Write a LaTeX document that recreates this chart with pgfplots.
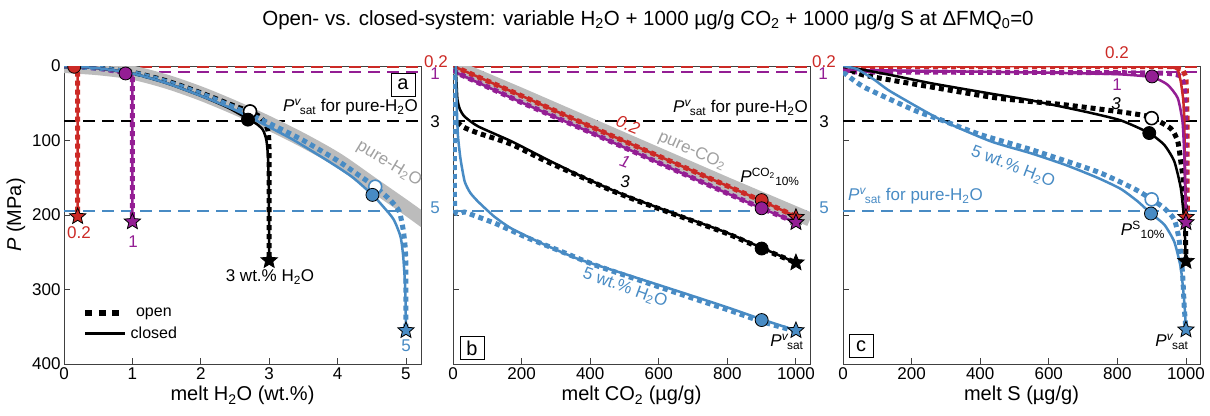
\documentclass[border=0pt]{standalone}
\usepackage{fontspec}
\setmainfont{Liberation Sans}
\usepackage{pgfplots}
\pgfplotsset{compat=1.18}

\definecolor{cred}{RGB}{204,42,38}
\definecolor{cpur}{RGB}{148,30,148}
\definecolor{cblu}{RGB}{72,139,196}
\definecolor{cgray}{RGB}{188,188,188}

\pgfdeclareplotmark{fstar}{%
 \pgfpathmoveto{\pgfpointpolar{90}{\pgfplotmarksize}}%
 \pgfpathlineto{\pgfpointpolar{126}{0.45\pgfplotmarksize}}%
 \pgfpathlineto{\pgfpointpolar{162}{\pgfplotmarksize}}%
 \pgfpathlineto{\pgfpointpolar{198}{0.45\pgfplotmarksize}}%
 \pgfpathlineto{\pgfpointpolar{234}{\pgfplotmarksize}}%
 \pgfpathlineto{\pgfpointpolar{270}{0.45\pgfplotmarksize}}%
 \pgfpathlineto{\pgfpointpolar{306}{\pgfplotmarksize}}%
 \pgfpathlineto{\pgfpointpolar{342}{0.45\pgfplotmarksize}}%
 \pgfpathlineto{\pgfpointpolar{18}{\pgfplotmarksize}}%
 \pgfpathlineto{\pgfpointpolar{54}{0.45\pgfplotmarksize}}%
 \pgfpathclose
 \pgfusepathqfillstroke
}

\newcommand{\Pv}{\textit{P}\textsuperscript{\textit{v}}\kern-0.1em\textsubscript{sat}}

\pgfplotsset{
  panel/.style={
    scale only axis, width=357pt, height=298pt,
    y dir=reverse, ymin=0, ymax=400,
    ytick={0,100,200,300,400},
    tick pos=left, tick align=inside,
    major tick length=6pt,
    axis line style={black!75, line width=0.9pt},
    every tick/.style={black!75, line width=0.9pt},
    tick label style={font=\fontsize{17}{20}\selectfont},
    label style={font=\fontsize{20}{24}\selectfont},
    /pgf/number format/assume math mode=true,
    /pgf/number format/1000 sep={},
    clip marker paths=true,
  },
  openl/.style={line width=5pt, dash pattern=on 5pt off 4pt},
  closedl/.style={line width=2.5pt},
  hd/.style={line width=2pt, dash pattern=on 12pt off 7pt},
  band/.style={color=cgray, line width=14pt},
  fstarm/.style={only marks, mark=fstar, mark size=8.5pt, mark options={draw=black, line width=0.8pt, fill=#1}},
  fcirc/.style={only marks, mark=*, mark size=6.5pt, mark options={draw=black, line width=0.8pt, fill=#1}},
  ocirc/.style={only marks, mark=*, mark size=6.5pt, mark options={draw=#1, line width=1.6pt, fill=white}},
}

\begin{document}
\begin{tikzpicture}
\useasboundingbox (0pt,0pt) rectangle (1210pt,415pt);

% ---------------- panel a ----------------
\begin{axis}[panel, at={(64pt,51pt)}, anchor=south west,
  xmin=0, xmax=5.22, xtick={0,1,2,3,4,5},
  xlabel={melt H\textsubscript{2}O (wt.\%)},
  ylabel={\textit{P} (MPa)},
  legend style={draw=none, fill=none, at={(axis cs:0.22,319)}, anchor=north west,
    font=\fontsize{16}{19}\selectfont, row sep=5pt},
  legend image code/.code={\draw[#1] (0pt,0pt) -- (40pt,0pt);},
]
\addlegendimage{black, line width=6.5pt, dash pattern=on 7pt off 6.5pt}
\addlegendentry{open}
\addlegendimage{black, line width=3pt}
\addlegendentry{closed}

\addplot[cred, hd] coordinates {(0,1) (5.22,1)};
\addplot[cpur, hd] coordinates {(0,8.5) (5.22,8.5)};
\addplot[black, hd] coordinates {(0,74) (5.22,74)};
\addplot[cblu, hd] coordinates {(0,194) (5.22,194)};

\addplot[band, smooth] coordinates {(0,0) (0.5,3) (1,9) (1.5,21) (2,37) (2.5,56) (3,77) (3.5,100) (4,126) (4.5,158) (5,190) (5.3,210)};

% open
\addplot[cred, openl] coordinates {(0,0) (0.1,1) (0.2,2) (0.2,202)};
\addplot[cpur, openl] coordinates {(0,0) (0.5,3) (0.9,9) (1,11) (1,209)};
\addplot[black, openl, smooth, tension=0.4] coordinates {(0,0) (0.5,2.5) (1,8.5) (1.5,20) (2,36) (2.5,54) (2.72,61) (2.86,68) (2.95,78) (2.99,92) (3,130) (3,261)};
\addplot[cblu, openl, smooth, tension=0.4] coordinates {(0,0) (0.5,3) (1,9) (1.5,21) (2,37) (2.5,56) (3,77) (3.5,100) (4,127) (4.3,146) (4.55,162) (4.77,180) (4.9,195) (4.96,220) (4.99,245) (5,275) (5,355)};
% closed
\addplot[cred, closedl] coordinates {(0,0) (0.1,1) (0.2,2) (0.2,202)};
\addplot[cpur, closedl] coordinates {(0,0) (0.5,3) (0.9,9) (1,11) (1,209)};
\addplot[black, closedl, smooth, tension=0.4] coordinates {(0,0) (0.5,3) (1,10) (1.5,23) (2,40) (2.4,56) (2.69,71) (2.82,78) (2.91,86) (2.96,100) (2.985,125) (2.995,170) (3,261)};
\addplot[cblu, closedl, smooth, tension=0.4] coordinates {(0,0) (0.5,3) (1,10) (1.5,23) (2,40) (2.5,59) (3,82) (3.35,99) (3.8,124) (4.2,148) (4.51,173) (4.67,189) (4.82,206) (4.92,229) (4.96,256) (4.99,300) (5,355)};

\addplot[fcirc=cred] coordinates {(0.15,1)};
\addplot[fcirc=cpur] coordinates {(0.9,10)};
\addplot[ocirc=black] coordinates {(2.72,61)};
\addplot[fcirc=black] coordinates {(2.69,72)};
\addplot[ocirc=cblu] coordinates {(4.55,162)};
\addplot[fcirc=cblu] coordinates {(4.51,173)};
\addplot[fstarm=cred] coordinates {(0.2,202)};
\addplot[fstarm=cpur] coordinates {(1,209)};
\addplot[fstarm=black] coordinates {(3,261)};
\addplot[fstarm=cblu] coordinates {(5,355)};
\end{axis}

% ---------------- panel b ----------------
\begin{axis}[panel, at={(453pt,51pt)}, anchor=south west,
  xmin=0, xmax=1041, xtick={0,200,400,600,800,1000}, yticklabels={},
  xlabel={melt CO\textsubscript{2} (µg/g)},
]
\addplot[cred, hd] coordinates {(0,1) (1041,1)};
\addplot[cpur, hd] coordinates {(0,8.5) (1041,8.5)};
\addplot[black, hd] coordinates {(0,74) (1041,74)};
\addplot[cblu, hd] coordinates {(0,194) (1041,194)};

\addplot[band] coordinates {(0,0) (200,39) (400,79) (600,119) (800,159) (1041,206)};

\addplot[cred, openl] coordinates {(0,0) (10,2) (200,40) (400,81) (600,121) (800,161) (900,181) (1000,202)};
\addplot[cpur, openl] coordinates {(0,5) (15,10) (200,49) (400,89) (600,130) (800,171) (900,191) (1000,210)};
\addplot[black, openl, smooth, tension=0.4] coordinates {(12,75) (30,82) (73,90) (170,105) (268,127) (365,147) (462,167) (550,183) (681,205) (800,225) (900,245) (1000,264)};
\addplot[cblu, openl, smooth, tension=0.3] coordinates {(5,0) (5,190) (34,196) (122,211) (219,231) (316,249) (413,267) (540,287) (681,309) (800,327) (900,343) (1000,356)};

\addplot[cred, closedl] coordinates {(0,0) (10,2) (200,40) (400,81) (600,121) (800,161) (900,181) (1000,202)};
\addplot[cpur, closedl] coordinates {(0,5) (15,10) (200,49) (400,89) (600,130) (800,171) (900,191) (1000,210)};
\addplot[black, closedl, smooth, tension=0.35] coordinates {(8,0) (10,20) (13,45) (20,58) (34,68) (73,81) (170,101) (268,124) (365,146) (462,166) (550,182) (681,204) (800,224) (900,244) (1000,264)};
\addplot[cblu, closedl, smooth, tension=0.35] coordinates {(8,0) (10,40) (13,80) (15,97) (22,125) (34,155) (50,170) (73,182) (120,202) (170,218) (268,240) (365,259) (486,277) (540,285) (681,306) (800,324) (900,340) (1000,355)};

\addplot[fcirc=cred] coordinates {(900,180)};
\addplot[fcirc=cpur] coordinates {(900,191)};
\addplot[fcirc=black] coordinates {(900,245)};
\addplot[fcirc=cblu] coordinates {(900,341)};
\addplot[fstarm=cred] coordinates {(1000,203)};
\addplot[fstarm=cpur] coordinates {(1000,210)};
\addplot[fstarm=black] coordinates {(1000,264)};
\addplot[fstarm=cblu] coordinates {(1000,355)};
\end{axis}

% ---------------- panel c ----------------
\begin{axis}[panel, at={(843pt,51pt)}, anchor=south west,
  xmin=0, xmax=1041, xtick={0,200,400,600,800,1000}, yticklabels={},
  xlabel={melt S (µg/g)},
]
\addplot[cred, hd] coordinates {(0,1) (1041,1)};
\addplot[cpur, hd] coordinates {(0,8.5) (1041,8.5)};
\addplot[black, hd] coordinates {(0,74) (1041,74)};
\addplot[cblu, hd] coordinates {(0,194) (1041,194)};

\addplot[cred, openl] coordinates {(0,1) (960,1) (990,4) (1000,15) (1003,60) (1004,203)};
\addplot[cpur, openl, smooth, tension=0.3] coordinates {(0,8) (800,9) (950,10) (985,14) (995,30) (999,80) (1000,210)};
\addplot[black, openl, smooth, tension=0.35] coordinates {(0,0) (59,12) (255,28) (450,43) (645,52) (800,61) (893,68) (956,84) (976,101) (985,128) (995,164) (998,200) (1000,262)};
\addplot[cblu, openl, smooth, tension=0.35] coordinates {(0,8) (60,28) (206,59) (284,72) (400,92) (547,112) (742,142) (850,165) (900,179) (937,191) (966,206) (980,233) (990,278) (995,323) (1000,354)};

\addplot[cred, closedl, smooth, tension=0.3] coordinates {(0,0) (900,0.5) (960,2) (976,5) (985,21) (992,45) (995,70) (997,130) (1000,203)};
\addplot[cpur, closedl, smooth, tension=0.35] coordinates {(0,5) (300,7) (600,9) (800,11) (901,15) (946,25) (976,43) (990,75) (995,119) (998,170) (1000,210)};
\addplot[black, closedl, smooth, tension=0.35] coordinates {(0,0) (138,12) (255,23) (430,37) (547,46) (713,62) (810,73) (893,90) (937,106) (966,128) (985,164) (995,209) (1000,262)};
\addplot[cblu, closedl, smooth, tension=0.35] coordinates {(0,0) (40,4) (90,18) (138,34) (284,72) (430,101) (547,117) (650,133) (742,150) (810,165) (860,182) (898,198) (937,213) (966,236) (985,271) (995,316) (1000,354)};

\addplot[fcirc=cred] coordinates {(900,-2)};
\addplot[fcirc=cpur] coordinates {(901,14)};
\addplot[ocirc=black] coordinates {(900,70)};
\addplot[fcirc=black] coordinates {(893,90)};
\addplot[ocirc=cblu] coordinates {(900,179)};
\addplot[fcirc=cblu] coordinates {(898,198)};
\addplot[fstarm=cred] coordinates {(1000,203)};
\addplot[fstarm=cpur] coordinates {(1000,210)};
\addplot[fstarm=black] coordinates {(1000,262)};
\addplot[fstarm=cblu] coordinates {(1000,354)};
\end{axis}

% ---------------- texts ----------------
\node[font=\fontsize{20.5}{24}\selectfont] at (648pt,395pt)
  {Open- vs. closed-system: variable H\textsubscript{2}O + 1000 µg/g CO\textsubscript{2} + 1000 µg/g S at ΔFMQ\textsubscript{0}=0};

\begin{scope}[every node/.style={font=\fontsize{17}{20}\selectfont, inner sep=0pt}]
% panel a
\node[anchor=east] at (418pt,308pt) {\Pv{} for pure-H\textsubscript{2}O};
\node[cgray!85!black, rotate=-31] at (389pt,251pt) {pure-H\textsubscript{2}O};
\node at (270pt,138pt) {3 wt.\% H\textsubscript{2}O};
\node[cred] at (79pt,182pt) {0.2};
\node[cpur] at (133pt,173pt) {1};
\node[cblu] at (406pt,69pt) {5};
\node[cred] at (436pt,353pt) {0.2};
\node[cpur] at (435pt,341.5pt) {1};
\node at (435pt,293pt) {3};
\node[cblu] at (435pt,207pt) {5};
\node[draw=black, line width=0.9pt, minimum width=24pt, minimum height=23pt, font=\fontsize{20}{22}\selectfont] at (403pt,330.5pt) {a};
% panel b
\node[anchor=east] at (808pt,307pt) {\Pv{} for pure-H\textsubscript{2}O};
\node[cred, rotate=-22] at (628pt,290pt) {\textit{0.2}};
\node[cpur, rotate=-20] at (625pt,253pt) {\textit{1}};
\node at (625pt,233pt) {\textit{3}};
\node[cgray!85!black, rotate=-24] at (692pt,264pt) {pure-CO\textsubscript{2}};
\node at (770pt,238pt) {\textit{P}\textsuperscript{CO\textsubscript{2}}\textsubscript{10\%}};
\node[cblu, rotate=-20] at (625pt,127pt) {5 wt.\% H\textsubscript{2}O};
\node at (787pt,73pt) {\Pv};
\node[draw=black, line width=0.9pt, minimum width=24pt, minimum height=23pt, font=\fontsize{20}{22}\selectfont] at (472pt,67pt) {b};
\node[cred] at (824pt,353pt) {0.2};
\node[cpur] at (823pt,341.5pt) {1};
\node at (824pt,293pt) {3};
\node[cblu] at (824pt,207pt) {5};
% panel c
\node[cred] at (1117pt,362pt) {0.2};
\node[cpur] at (1117pt,330pt) {1};
\node at (1116pt,311pt) {\textit{3}};
\node[cblu, rotate=-21] at (1013pt,248pt) {5 wt.\% H\textsubscript{2}O};
\node[cblu, anchor=west] at (848pt,219pt) {\Pv{} for pure-H\textsubscript{2}O};
\node at (1143pt,185pt) {\textit{P}\textsuperscript{S}\textsubscript{10\%}};
\node at (1172pt,73pt) {\Pv};
\node[draw=black, line width=0.9pt, minimum width=24pt, minimum height=23pt, font=\fontsize{20}{22}\selectfont] at (861pt,69pt) {c};
\end{scope}
\end{tikzpicture}
\end{document}
